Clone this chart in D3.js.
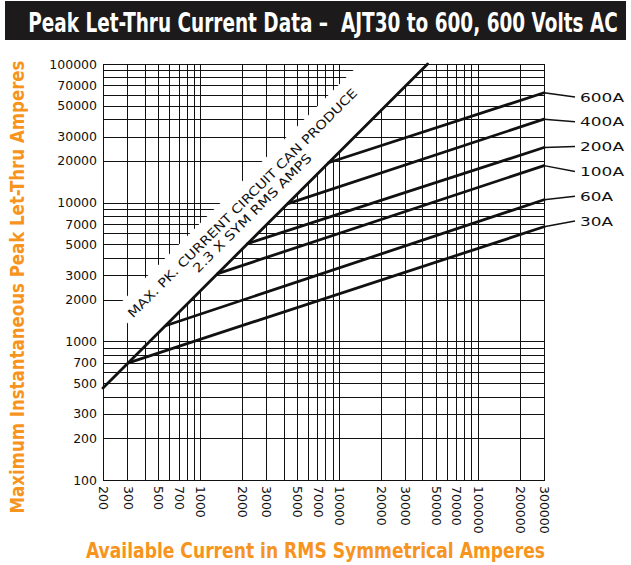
<!DOCTYPE html>
<html><head><meta charset="utf-8">
<script src="https://cdn.jsdelivr.net/npm/d3@7"></script>
<style>body{margin:0;background:#fff}</style>
</head><body><svg id="c" width="631" height="565"></svg>
<script>
// ---- data ----
const xTickLabels = [200,300,500,700,1000,2000,3000,5000,7000,10000,20000,30000,50000,70000,100000,200000,300000];
const yTickLabels = [100,200,300,500,700,1000,2000,3000,5000,7000,10000,20000,30000,50000,70000,100000];
const seriesNames  = ["600A","400A","200A","100A","60A","30A"];
const seriesStartX = [8400, 4300, 2200, 1340, 570, 305];
const seriesStartY = [19400, 9840, 5070, 3080, 1300, 700];
const seriesEndX   = [300000, 300000, 300000, 300000, 300000, 300000];
const seriesEndY   = [62000, 40000, 25000, 18500, 10500, 6700];
const maxLineX = [200, 43500];
const maxLineY = [460, 100000];
const maxLineText1 = "MAX. PK. CURRENT CIRCUIT CAN PRODUCE";
const maxLineText2 = "2.3 X SYM RMS AMPS";
const titleText = "Peak Let-Thru Current Data \u2013  AJT30 to 600, 600 Volts AC";
const xAxisTitle = "Available Current in RMS Symmetrical Amperes";
const yAxisTitle = "Maximum Instantaneous Peak Let-Thru Amperes";

// ---- layout ----
const L = 103, R = 544, T = 64, B = 480;
const svg = d3.select("#c");
const x = d3.scaleLog().domain([200, 300000]).range([L, R]);
const y = d3.scaleLog().domain([100, 100000]).range([B, T]);
const condensed = "'Liberation Sans Narrow','DejaVu Sans Condensed','Roboto Condensed','Arial Narrow',sans-serif";
const orange = "#F7941D";
const ink = "#111";

// title bar
svg.append("rect").attr("x",5).attr("y",1).attr("width",621).attr("height",39).attr("fill","#1c1a1a");
const title = svg.append("text").attr("x",0).attr("y",0).attr("text-anchor","middle")
  .attr("fill","#fff").attr("font-family",condensed).attr("font-weight","bold").attr("font-size",20)
  .attr("xml:space","preserve").text(titleText);
{
  const w = title.node().getComputedTextLength();
  const sx = 590 / w, sy = 1.35;
  title.attr("transform",`translate(323,31.5) scale(${sx},${sy})`);
}

// grid values (1..9 per decade)
const xGrid = [], yGrid = [];
[100,1000,10000,100000].forEach(d => { for (let m=1;m<=9;m++){ const v=m*d; if (v>=200 && v<=300000) xGrid.push(v); } });
[100,1000,10000].forEach(d => { for (let m=1;m<=9;m++){ yGrid.push(m*d); } });
yGrid.push(100000);

const grid = svg.append("g").attr("stroke",ink).attr("stroke-width",1.1).attr("shape-rendering","crispEdges");
grid.selectAll(".vx").data(xGrid).join("line")
  .attr("x1",d=>Math.round(x(d))+0.5).attr("x2",d=>Math.round(x(d))+0.5).attr("y1",T).attr("y2",B);
grid.selectAll(".hy").data(yGrid).join("line")
  .attr("y1",d=>Math.round(y(d))+0.5).attr("y2",d=>Math.round(y(d))+0.5).attr("x1",L).attr("x2",R);

// max line geometry
const p0 = [x(maxLineX[0]), y(maxLineY[0])], p1 = [x(maxLineX[1]), y(maxLineY[1])];
const ang = Math.atan2(p1[1]-p0[1], p1[0]-p0[0]) * 180 / Math.PI;
const cx = (p0[0]+p1[0])/2, cy = (p0[1]+p1[1])/2;

// white band behind the diagonal text
svg.append("clipPath").attr("id","plotclip").append("rect")
  .attr("x",L+1).attr("y",T+1).attr("width",R-L-2).attr("height",B-T-2);
const bandG = svg.append("g").attr("clip-path","url(#plotclip)")
  .append("g").attr("transform",`translate(${cx},${cy}) rotate(${ang})`);
bandG.append("rect").attr("x",-166).attr("y",-48).attr("width",520).attr("height",48).attr("fill","#fff");

// frame
svg.append("rect").attr("x",L+0.5).attr("y",T+0.5).attr("width",R-L).attr("height",B-T)
  .attr("fill","none").attr("stroke",ink).attr("stroke-width",1.2).attr("shape-rendering","crispEdges");

// max line
svg.append("line").attr("x1",p0[0]).attr("y1",p0[1]).attr("x2",p1[0]).attr("y2",p1[1])
  .attr("stroke",ink).attr("stroke-width",2.8).attr("stroke-linecap","round");

// let-thru curves
const curves = seriesNames.map((n,i)=>({name:n, pts:[[seriesStartX[i],seriesStartY[i]],[seriesEndX[i],seriesEndY[i]]]}));
const lineGen = d3.line().x(d=>x(d[0])).y(d=>y(d[1]));
svg.append("g").selectAll("path").data(curves).join("path")
  .attr("d",d=>lineGen(d.pts)).attr("fill","none").attr("stroke",ink)
  .attr("stroke-width",2.8).attr("stroke-linecap","round");

// diagonal text
const tg = svg.append("g").attr("transform",`translate(${cx},${cy}) rotate(${ang})`)
  .attr("font-family","'DejaVu Sans',sans-serif").attr("font-size",12.5).attr("fill",ink).attr("text-anchor","middle");
tg.append("text").attr("x",0).attr("y",-28).attr("textLength",318).attr("lengthAdjust","spacingAndGlyphs").text(maxLineText1);
tg.append("text").attr("x",0).attr("y",-14).attr("textLength",162).attr("lengthAdjust","spacingAndGlyphs").text(maxLineText2);

// right labels with leader lines
const labX = 580;
curves.forEach((c,i)=>{
  const ly = 97 + i*24.8;
  svg.append("line").attr("x1",x(c.pts[1][0])).attr("y1",y(c.pts[1][1])).attr("x2",labX-5).attr("y2",ly)
    .attr("stroke",ink).attr("stroke-width",1.5);
  svg.append("text").attr("x",labX).attr("y",ly+4.6).attr("font-family","'DejaVu Sans',sans-serif")
    .attr("font-size",12.5).attr("fill",ink).attr("textLength",c.name.length*11)
    .attr("lengthAdjust","spacingAndGlyphs").text(c.name);
});

// axes
const fmt = d3.format("d");
const ya = svg.append("g").attr("transform",`translate(${L},0)`)
  .call(d3.axisLeft(y).tickValues(yTickLabels).tickFormat(fmt).tickSize(0).tickPadding(6));
ya.select(".domain").remove();
ya.selectAll("text").attr("font-family","'DejaVu Sans',sans-serif").attr("font-size",12.5).attr("fill",ink);

const xa = svg.append("g").attr("transform",`translate(0,${B})`)
  .call(d3.axisBottom(x).tickValues(xTickLabels).tickFormat(fmt).tickSize(0));
xa.select(".domain").remove();
xa.selectAll("text").attr("font-family","'DejaVu Sans',sans-serif").attr("font-size",12.5).attr("fill",ink)
  .attr("transform","rotate(90)").attr("x",6).attr("y",0).attr("dy","0.35em").style("text-anchor","start");

// axis titles
svg.append("text").attr("transform","translate(24,287) rotate(-90)").attr("text-anchor","middle")
  .attr("fill",orange).attr("font-family",condensed).attr("font-weight","bold").attr("font-size",20)
  .attr("textLength",453).attr("lengthAdjust","spacingAndGlyphs").text(yAxisTitle);
svg.append("text").attr("x",315.5).attr("y",558).attr("text-anchor","middle")
  .attr("fill",orange).attr("font-family",condensed).attr("font-weight","bold").attr("font-size",22)
  .attr("textLength",459).attr("lengthAdjust","spacingAndGlyphs").text(xAxisTitle);
</script></body></html>
